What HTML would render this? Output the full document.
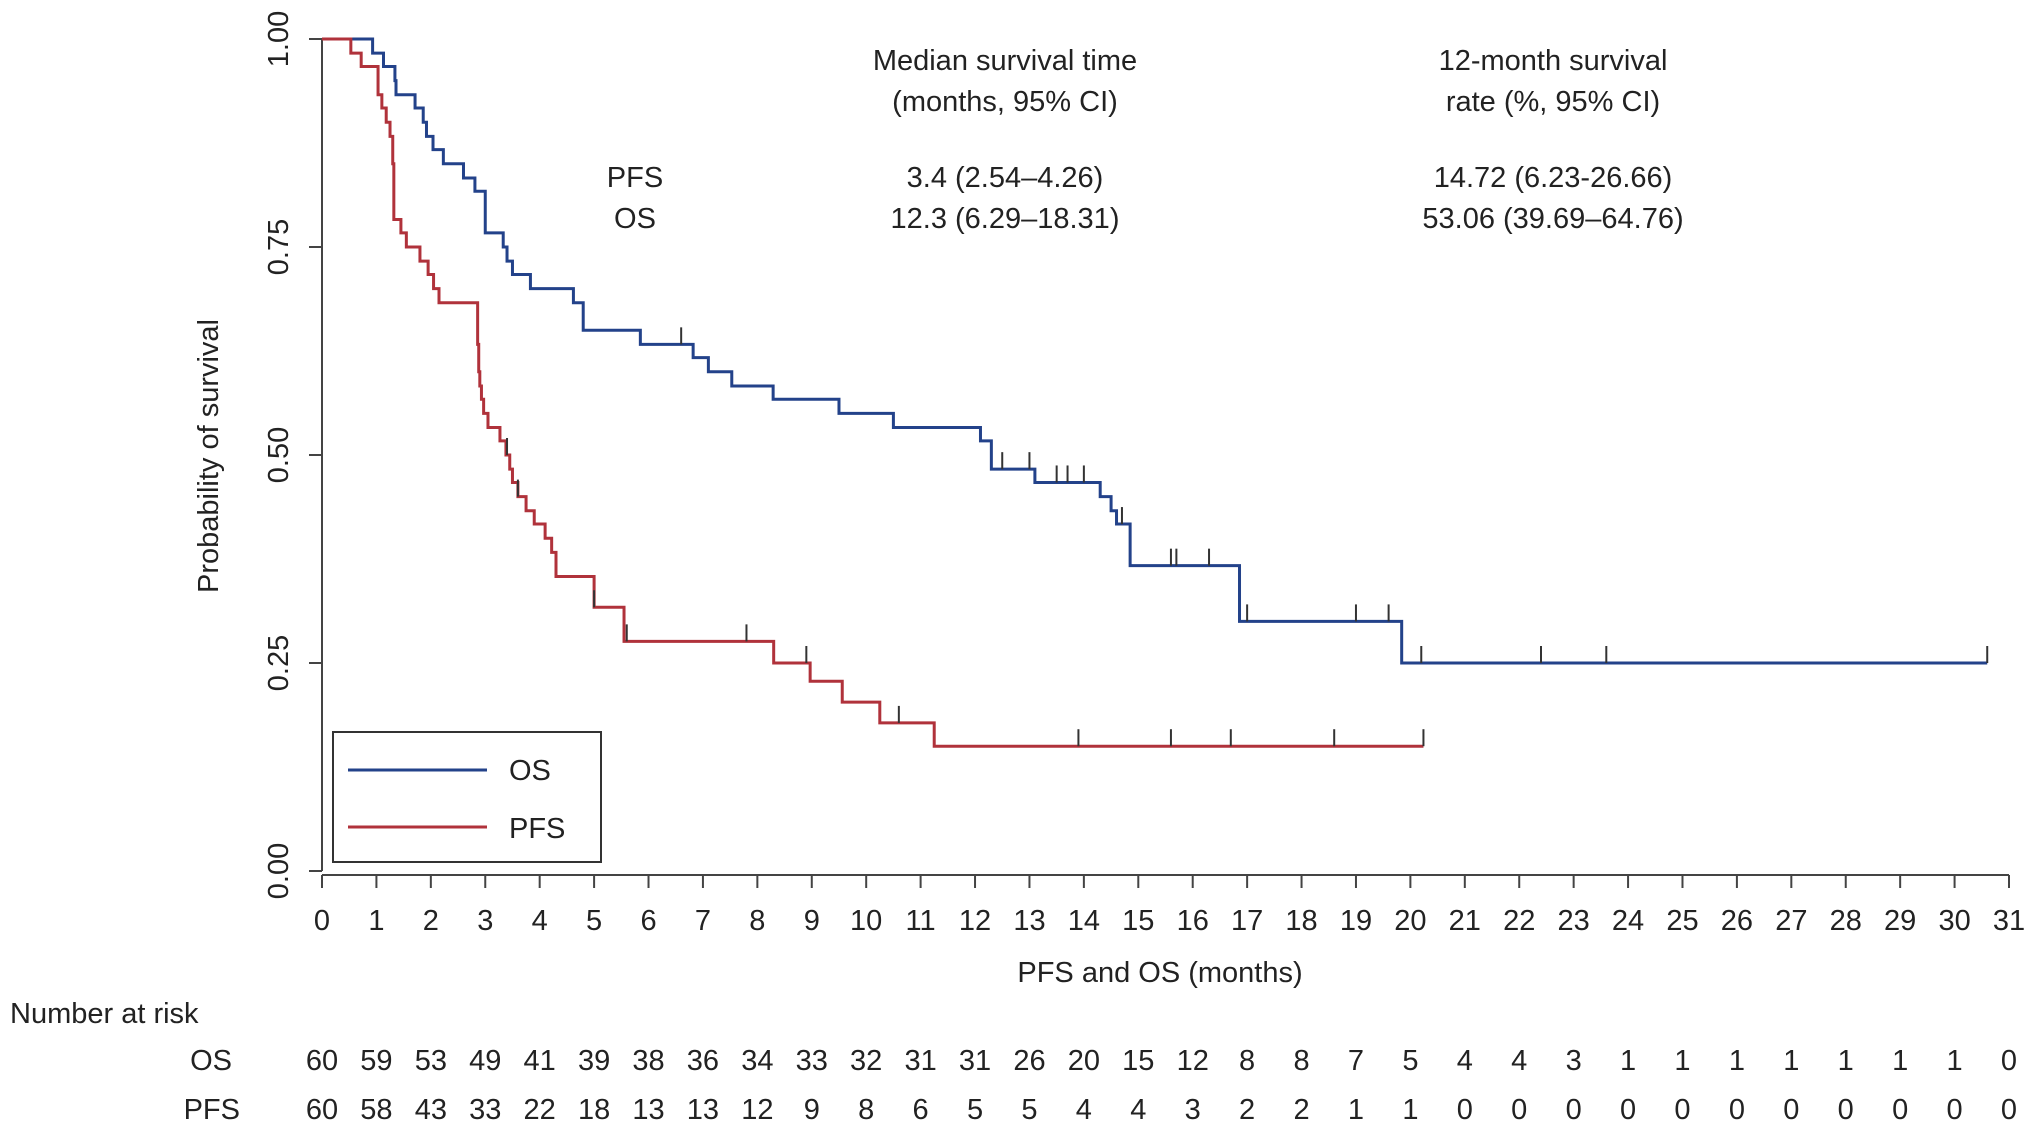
<!DOCTYPE html>
<html><head><meta charset="utf-8"><style>
body{margin:0;background:#fff;}
svg{display:block;font-family:"Liberation Sans",sans-serif;}
</style></head><body>
<svg id="chart" width="2032" height="1131" viewBox="0 0 2032 1131"></svg>
<script>
// ---- data ----
const osTimes = [0.93,1.13,1.34,1.36,1.71,1.86,1.92,2.04,2.23,2.6,2.81,3.0,3.33,3.4,3.5,3.83,4.62,4.8,5.85,6.82,7.1,7.53,8.29,9.5,10.5,12.1,12.3,13.1,14.3,14.5,14.6,14.85,16.86,19.84];
const osSurv  = [0.983,0.967,0.95,0.933,0.917,0.9,0.883,0.867,0.85,0.833,0.817,0.767,0.75,0.733,0.717,0.7,0.683,0.65,0.633,0.617,0.6,0.583,0.567,0.55,0.533,0.517,0.483,0.467,0.45,0.433,0.417,0.367,0.30,0.25];
const osEnd = 30.6;
const osCensor = [6.6,12.5,13.0,13.5,13.7,14.0,14.7,15.6,15.7,16.3,17.0,19.0,19.6,20.2,22.4,23.6,30.6];
const pfsTimes = [0.53,0.72,1.03,1.1,1.18,1.25,1.3,1.32,1.45,1.55,1.8,1.95,2.05,2.15,2.86,2.88,2.9,2.93,2.97,3.05,3.27,3.38,3.45,3.5,3.6,3.75,3.9,4.1,4.22,4.3,5.0,5.55,8.3,8.97,9.56,10.25,11.25];
const pfsSurv  = [0.983,0.967,0.933,0.917,0.9,0.883,0.85,0.783,0.767,0.75,0.733,0.717,0.70,0.683,0.633,0.6,0.583,0.567,0.55,0.533,0.517,0.5,0.483,0.467,0.45,0.433,0.417,0.40,0.383,0.354,0.317,0.276,0.25,0.228,0.203,0.178,0.15];
const pfsEnd = 20.24;
const pfsCensor = [3.4,3.6,5.0,5.6,7.8,8.9,10.6,13.9,15.6,16.7,18.6,20.24];
const yTicks = [0,0.25,0.5,0.75,1.0];
const yTickLabels = ["0.00","0.25","0.50","0.75","1.00"];
const xTicks = Array.from({length:32},(_, i)=>i);
const osRisk  = [60,59,53,49,41,39,38,36,34,33,32,31,31,26,20,15,12,8,8,7,5,4,4,3,1,1,1,1,1,1,1,0];
const pfsRisk = [60,58,43,33,22,18,13,13,12,9,8,6,5,5,4,4,3,2,2,1,1,0,0,0,0,0,0,0,0,0,0,0];

// ---- scales ----
const X0=322, X1=2009, Y0=871, Y1=39;
const xs = m => X0 + m*(X1-X0)/31;
const ys = p => Y0 - p*(Y0-Y1);
const svg = document.getElementById('chart');
const NS='http://www.w3.org/2000/svg';
function mk(tag, attrs, text){
  const e=document.createElementNS(NS,tag);
  for(const k in attrs) e.setAttribute(k,attrs[k]);
  if(text!==undefined) e.textContent=text;
  svg.appendChild(e); return e;
}
const F = 29;

// axes
let e = mk('line',{x1:X0,y1:ys(0),x2:X0,y2:ys(1),stroke:'#444','stroke-width':2});
 
e = mk('line',{x1:X0,y1:Y0+4,x2:X1,y2:Y0+4,stroke:'#444','stroke-width':2});
 
yTicks.forEach((v,i)=>{
  const y=ys(v);
  let t=mk('line',{x1:X0-13,y1:y,x2:X0,y2:y,stroke:'#444','stroke-width':2});
   
  let l=mk('text',{x:0,y:0,transform:`translate(288,${y}) rotate(-90)`,'text-anchor':'middle','font-size':F,fill:'#222'},yTickLabels[i]);
   
});
xTicks.forEach(m=>{
  const x=xs(m);
  let t=mk('line',{x1:x,y1:Y0+4,x2:x,y2:Y0+17,stroke:'#444','stroke-width':2});
   
  let l=mk('text',{x:x,y:930,'text-anchor':'middle','font-size':F,fill:'#222'},String(m));
   
});
e=mk('text',{x:0,y:0,transform:'translate(218,456) rotate(-90)','text-anchor':'middle','font-size':F,fill:'#222'},'Probability of survival');
 
e=mk('text',{x:1160,y:982,'text-anchor':'middle','font-size':F,fill:'#222'},'PFS and OS (months)');
 

// curves
function stepPath(times, surv, end){
  let d=`M${xs(0)},${ys(1)}`;
  times.forEach((t,i)=>{ d+=` H${xs(t)} V${ys(surv[i])}`; });
  d+=` H${xs(end)}`;
  return d;
}
function survAt(times, surv, t){
  let p=1; times.forEach((tt,i)=>{ if(tt<=t) p=surv[i]; }); return p;
}
function drawCurve(times,surv,end,censor,color,name){
  const path=mk('path',{d:stepPath(times,surv,end),fill:'none',stroke:color,'stroke-width':3});
   
  censor.forEach(c=>{
    const y=ys(survAt(times,surv,c)), x=xs(c);
    const m=mk('line',{x1:x,y1:y,x2:x,y2:y-17,stroke:'#333','stroke-width':2});
     
  });
}
drawCurve(osTimes,osSurv,osEnd,osCensor,'#23428a','os');
drawCurve(pfsTimes,pfsSurv,pfsEnd,pfsCensor,'#b0323b','pfs');

// legend
e=mk('rect',{x:333,y:732,width:268,height:130,fill:'#fff',stroke:'#333','stroke-width':2});
 
e=mk('line',{x1:348,y1:770,x2:487,y2:770,stroke:'#23428a','stroke-width':3});
 
e=mk('text',{x:509,y:780,'font-size':F,fill:'#222'},'OS');
 
e=mk('line',{x1:348,y1:827,x2:487,y2:827,stroke:'#b0323b','stroke-width':3});
 
e=mk('text',{x:509,y:838,'font-size':F,fill:'#222'},'PFS');
 

// annotation table
const ann=[[1005,70,'Median survival time','median-header'],[1005,111,'(months, 95% CI)','median-header-sub'],
[1553,70,'12-month survival','rate-header'],[1553,111,'rate (%, 95% CI)','rate-header-sub'],
[635,187,'PFS','pfs-row-label'],[635,228,'OS','os-row-label'],
[1005,187,'3.4 (2.54–4.26)','pfs-median'],[1005,228,'12.3 (6.29–18.31)','os-median'],
[1553,187,'14.72 (6.23-26.66)','pfs-rate'],[1553,228,'53.06 (39.69–64.76)','os-rate']];
ann.forEach(a=>{
  const t=mk('text',{x:a[0],y:a[1],'text-anchor':'middle','font-size':F,fill:'#222'},a[2]);
   
});

// risk table
e=mk('text',{x:10,y:1023,'font-size':F,fill:'#222'},'Number at risk');
 
e=mk('text',{x:232,y:1070,'text-anchor':'end','font-size':F,fill:'#222'},'OS');
 
e=mk('text',{x:240,y:1119,'text-anchor':'end','font-size':F,fill:'#222'},'PFS');
 
osRisk.forEach((v,i)=>{
  const t=mk('text',{x:xs(i),y:1070,'text-anchor':'middle','font-size':F,fill:'#222'},String(v));
   
});
pfsRisk.forEach((v,i)=>{
  const t=mk('text',{x:xs(i),y:1119,'text-anchor':'middle','font-size':F,fill:'#222'},String(v));
   
});
</script>
</body></html>
